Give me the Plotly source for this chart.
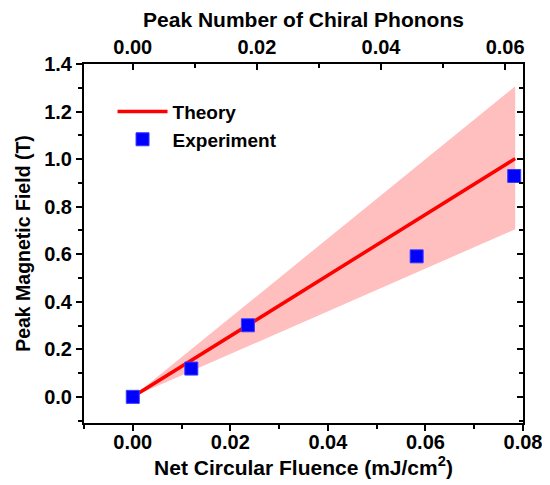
import plotly.graph_objects as go

# Data
exp_fluence = [0.0, 0.0120, 0.0236, 0.0582, 0.0782]
exp_field = [0.0, 0.119, 0.301, 0.591, 0.929]
theory_fluence = [0.0, 0.0784]
theory_field = [0.0, 1.002]
band_upper = [0.0, 1.306]
band_lower = [0.0, 0.705]
phonon_scale = 0.786  # chiral phonon number per unit fluence (top axis)
x_ticks = [0, 0.02, 0.04, 0.06, 0.08]
top_ticks = [0, 0.02, 0.04, 0.06]
y_ticks = [0, 0.2, 0.4, 0.6, 0.8, 1.0, 1.2, 1.4]

FONT = "Liberation Sans"

fig = go.Figure()

fig.add_trace(go.Scatter(
    x=theory_fluence + theory_fluence[::-1],
    y=band_upper + band_lower[::-1],
    fill="toself", fillcolor="#ffbfbf",
    line=dict(width=0), mode="lines", showlegend=False, hoverinfo="skip"))

fig.add_trace(go.Scatter(
    x=theory_fluence, y=theory_field, mode="lines", name="<b>Theory</b>",
    line=dict(color="#ff0000", width=3.5)))

fig.add_trace(go.Scatter(
    x=exp_fluence, y=exp_field, mode="markers", name="<b>Experiment</b>",
    marker=dict(symbol="square", size=13, color="#0000ff",
                line=dict(color="#3a3aff", width=1))))

fig.add_trace(go.Scatter(x=[0], y=[0], xaxis="x2", yaxis="y", mode="markers",
                         marker=dict(opacity=0), showlegend=False, hoverinfo="skip"))
fig.add_trace(go.Scatter(x=[0], y=[0], xaxis="x", yaxis="y2", mode="markers",
                         marker=dict(opacity=0), showlegend=False, hoverinfo="skip"))

xr = [-0.01, 0.08]
yr = [-0.11, 1.4]
tickfont = dict(family=FONT, size=20, color="black")
titlefont = dict(family=FONT, size=21, color="black")
minor_common = dict(ticklen=4, tickwidth=2, tickcolor="black")
fmt2 = lambda v: "<b>%.2f</b>" % v
fmt1 = lambda v: "<b>%.1f</b>" % v

fig.update_layout(
    width=542, height=477,
    margin=dict(l=76, r=27, t=56, b=62),
    plot_bgcolor="white", paper_bgcolor="white",
    font=dict(family=FONT, color="black"),
    xaxis=dict(range=xr, tickmode="array", tickvals=x_ticks,
               ticktext=[fmt2(v) for v in x_ticks],
               ticks="outside", ticklen=6, tickwidth=2, tickcolor="black",
               minor=dict(dtick=0.01, tick0=0, ticks="outside", **minor_common),
               showline=True, linewidth=2, linecolor="black", showgrid=False,
               zeroline=False, tickfont=tickfont, automargin=False,
               ticklabelstandoff=-6,
               title=dict(text="<b>Net Circular Fluence (mJ/cm<sup>2</sup>)</b>",
                          font=titlefont, standoff=0)),
    xaxis2=dict(range=[xr[0] * phonon_scale, xr[1] * phonon_scale], overlaying="x",
                side="top", anchor="y", tickmode="array", tickvals=top_ticks,
                ticktext=[fmt2(v) for v in top_ticks],
                ticks="inside", ticklen=6, tickwidth=2, tickcolor="black",
                minor=dict(dtick=0.01, tick0=0, ticks="inside", **minor_common),
                showline=True, linewidth=2, linecolor="black", showgrid=False,
                zeroline=False, tickfont=tickfont, automargin=False,
                title=dict(text="<b>Peak Number of Chiral Phonons</b>",
                           font=titlefont, standoff=7)),
    yaxis=dict(range=yr, tickmode="array", tickvals=y_ticks,
               ticktext=[fmt1(v) for v in y_ticks],
               ticks="outside", ticklen=6, tickwidth=2, tickcolor="black",
               minor=dict(dtick=0.1, tick0=0, ticks="outside", **minor_common),
               showline=True, linewidth=2, linecolor="black", showgrid=False,
               zeroline=False, tickfont=tickfont, automargin=False,
               title=dict(text="<b>Peak Magnetic Field (T)</b>",
                          font=dict(family=FONT, size=19.5, color="black"), standoff=8)),
    yaxis2=dict(range=yr, overlaying="y", side="right", anchor="x",
                tickmode="array", tickvals=y_ticks, showticklabels=False,
                ticks="inside", ticklen=6, tickwidth=2, tickcolor="black",
                minor=dict(dtick=0.1, tick0=0, ticks="inside", **minor_common),
                showline=True, linewidth=2, linecolor="black", showgrid=False,
                zeroline=False, automargin=False),
    legend=dict(x=0.065, y=0.92, xanchor="left", yanchor="top",
                bgcolor="rgba(0,0,0,0)", font=dict(family=FONT, size=19),
                tracegroupgap=0, itemwidth=50),
    showlegend=True,
)

fig.write_html("out.html")
